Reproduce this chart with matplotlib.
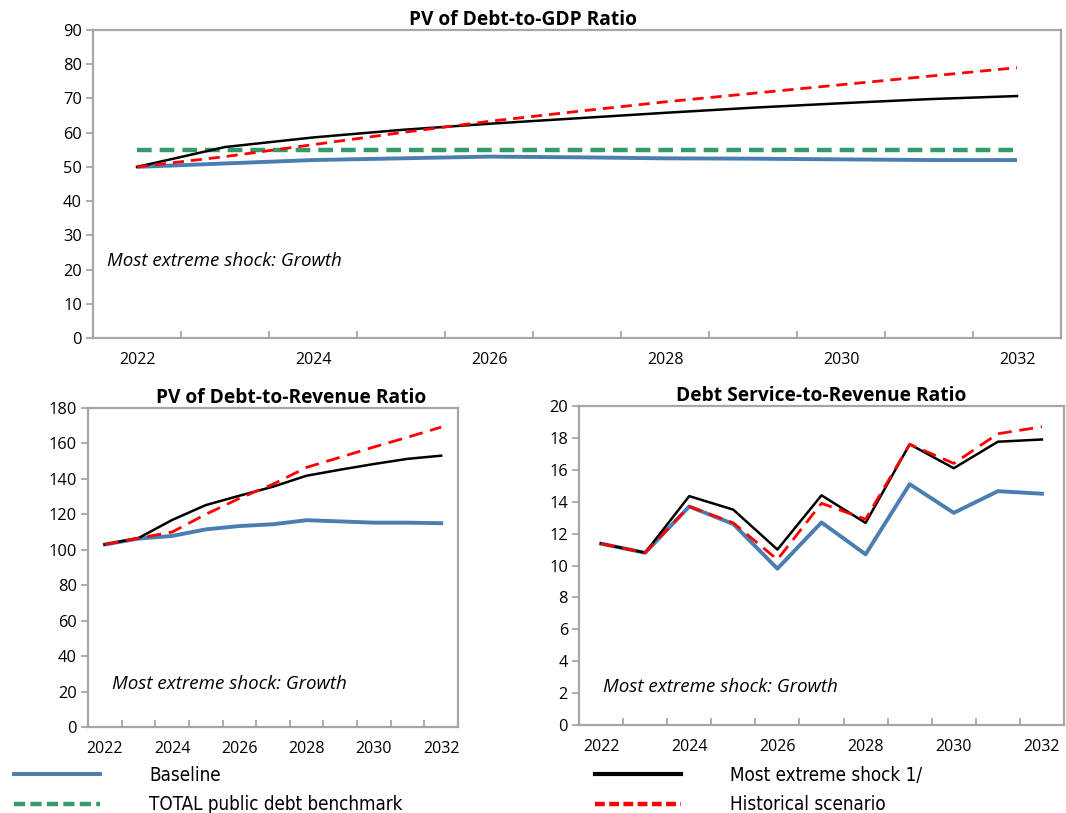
import matplotlib
matplotlib.use("Agg")
import matplotlib.pyplot as plt
from matplotlib.lines import Line2D
import numpy as np

plt.rcParams["font.family"] = ["Open Sans", "DejaVu Sans"]

years = list(range(2022, 2033))
year_labels = ["2022", "2024", "2026", "2028", "2030", "2032"]

# PV of Debt-to-GDP
gdp_baseline = [50, 51, 52, 52.5, 53, 52.8, 52.5, 52.4, 52.2, 52, 52]
gdp_extreme = [50, 55.8, 58.6, 60.8, 62.6, 64.2, 65.8, 67.3, 68.6, 69.8, 70.7]
gdp_historical = [50, 53, 56.5, 60, 63.3, 66.2, 69, 71.5, 74, 76.5, 79]
gdp_benchmark = [55] * 11

# PV of Debt-to-Revenue
rev_baseline = [103, 106.3, 107.8, 111.5, 113.4, 114.4, 116.7, 116, 115.3, 115.3, 115]
rev_extreme = [103, 106.6, 116.8, 125.2, 130.5, 135.6, 141.8, 145.2, 148.4, 151.3, 153.1]
rev_historical = [103, 106.6, 110, 120, 129, 137, 146.5, 152.2, 158, 163.5, 169.2]

# Debt Service-to-Revenue
ds_baseline = [11.37, 10.8, 13.7, 12.6, 9.8, 12.7, 10.7, 15.1, 13.3, 14.66, 14.5]
ds_extreme = [11.37, 10.8, 14.35, 13.5, 11.0, 14.4, 12.67, 17.6, 16.1, 17.76, 17.9]
ds_historical = [11.37, 10.8, 13.7, 12.67, 10.37, 13.9, 12.9, 17.6, 16.4, 18.26, 18.7]

BLUE = "#4A7EB0"
GREEN = "#35996A"
RED = "#FF0000"
GRAY = "#A6A6A6"

fig = plt.figure(figsize=(10.66, 8.13), dpi=100)


def style_axes(ax, ymax, ystep, title, title_x, note_x, note_y):
    x = np.arange(len(years))
    ax.set_xlim(-0.5, len(years) - 0.5)
    ax.set_ylim(0, ymax)
    ax.set_yticks(np.arange(0, ymax + ystep / 2, ystep))
    # ticks between categories, labels every other year
    ax.set_xticks(x[1:] - 0.5)
    ax.set_xticklabels([])
    ax.set_xticks(x[::2], minor=True)
    ax.set_xticklabels(year_labels, minor=True)
    ax.tick_params(axis="x", which="major", direction="in", length=5, color=GRAY, width=1.3)
    ax.tick_params(axis="x", which="minor", length=0, pad=10, labelsize=11.5)
    ax.tick_params(axis="y", direction="out", length=5, color=GRAY, width=1.3, labelsize=11.8, pad=3)
    for sp in ax.spines.values():
        sp.set_color(GRAY)
        sp.set_linewidth(1.6)
    ax.set_title(title, fontsize=13.8, fontweight="bold", pad=2, x=title_x)
    ax.text(note_x, note_y, "Most extreme shock: Growth", transform=ax.transAxes,
            fontsize=13.5, style="italic", va="center")


x = np.arange(len(years))

# top panel
ax1 = fig.add_axes([93 / 1066, 1 - 338 / 813, 968 / 1066, 308 / 813])
ax1.plot(x, gdp_baseline, color=BLUE, lw=2.8, solid_capstyle="butt")
ax1.plot(x, gdp_benchmark, color=GREEN, lw=3.2, dashes=(3.3, 1.8), dash_capstyle="butt")
ax1.plot(x, gdp_extreme, color="black", lw=1.8)
ax1.plot(x, gdp_historical, color=RED, lw=2, dashes=(4, 2.5))
style_axes(ax1, 90, 10, "PV of Debt-to-GDP Ratio", 0.444, 0.014, 0.25)

# bottom left
ax2 = fig.add_axes([88 / 1066, 1 - 727 / 813, 370 / 1066, 319 / 813])
ax2.plot(x, rev_baseline, color=BLUE, lw=2.8)
ax2.plot(x, rev_extreme, color="black", lw=1.8)
ax2.plot(x, rev_historical, color=RED, lw=2, dashes=(5, 2.8))
style_axes(ax2, 180, 20, "PV of Debt-to-Revenue Ratio", 0.549, 0.065, 0.135)

# bottom right
ax3 = fig.add_axes([579 / 1066, 1 - 725 / 813, 485 / 1066, 319 / 813])
ax3.plot(x, ds_baseline, color=BLUE, lw=2.8)
ax3.plot(x, ds_extreme, color="black", lw=1.8)
ax3.plot(x, ds_historical, color=RED, lw=2, dashes=(5, 2.8))
style_axes(ax3, 20, 2, "Debt Service-to-Revenue Ratio", 0.5, 0.049, 0.12)

# legends
h_base = Line2D([], [], color=BLUE, lw=2.8)
h_bench = Line2D([], [], color=GREEN, lw=3.2, dashes=(2.5, 1.2))
h_ext = Line2D([], [], color="black", lw=3)
h_hist = Line2D([], [], color=RED, lw=3.2, dashes=(2.2, 1.0))

leg_kw = dict(frameon=False, loc="upper left", borderpad=0, borderaxespad=0,
              handlelength=4.6, handletextpad=2.6, labelspacing=0.55,
              prop={"family": "DejaVu Sans", "stretch": "condensed", "size": 13.5})
fig.legend([h_base, h_bench], ["Baseline", "TOTAL public debt benchmark"],
           bbox_to_anchor=(14 / 1066, 1 - 766 / 813), **leg_kw)
fig.legend([h_ext, h_hist], ["Most extreme shock 1/", "Historical scenario"],
           bbox_to_anchor=(595 / 1066, 1 - 766 / 813), **leg_kw)

fig.savefig("out.png", dpi=100)
